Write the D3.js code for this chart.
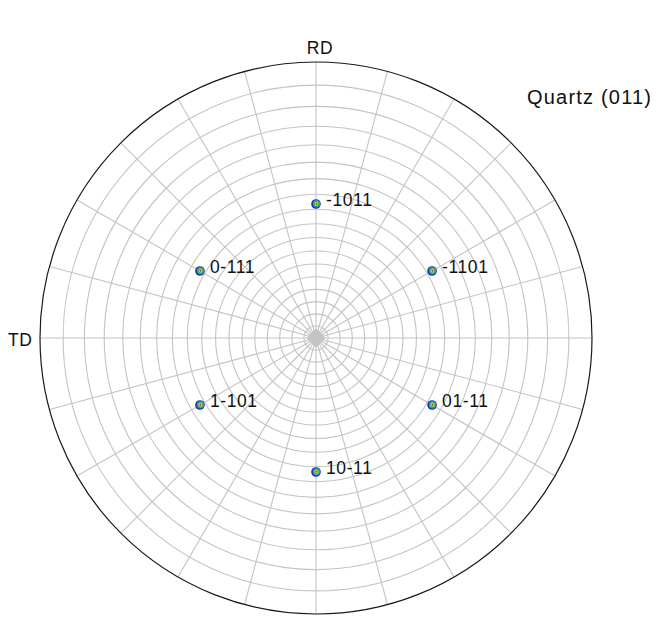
<!DOCTYPE html>
<html>
<head>
<meta charset="utf-8">
<script src="https://cdn.jsdelivr.net/npm/d3@7"></script>
<style>
  body { margin: 0; background: #fff; }
  text { font-family: Arial, "Liberation Sans", sans-serif; fill: #111; }
</style>
</head>
<body>
<svg id="pole-figure" width="657" height="618"></svg>
<script>
// pole figure data
var poleLabels = ['-1011', '-1101', '01-11', '10-11', '1-101', '0-111'];
var poleAzimuth = [0, 60, 120, 180, 240, 300];       // degrees, clockwise from RD
var polePsi = [51.8, 51.8, 51.8, 51.8, 51.8, 51.8];  // tilt from centre, degrees

// grid
var ringPsi = d3.range(5, 90, 5);       // 5..85
var spokeAzimuth = d3.range(0, 360, 15);

var title = 'Quartz (011)';
var axisNames = ['RD', 'TD'];

// layout
var svg = d3.select('#pole-figure');
var cx = 316, cy = 338, R = 276;

// stereographic projection: r = R * tan(psi/2)
var rScale = d3.scaleLinear().domain([0, 1]).range([0, R]);
function radius(psi) {
  return rScale(Math.tan(psi * Math.PI / 360));
}
function px(az, r) { return cx + r * Math.sin(az * Math.PI / 180); }
function py(az, r) { return cy - r * Math.cos(az * Math.PI / 180); }

var g = svg.append('g');
var gridColor = '#c4c4c4';

// rings
g.selectAll('circle.ring')
  .data(ringPsi)
  .enter()
  .append('circle')
  .attr('class', 'ring')
  .attr('cx', cx)
  .attr('cy', cy)
  .attr('r', function(d){ return radius(d); })
  .attr('fill', 'none')
  .attr('stroke', gridColor)
  .attr('stroke-width', 1.1);

// spokes
g.selectAll('line.spoke')
  .data(spokeAzimuth)
  .enter()
  .append('line')
  .attr('class', 'spoke')
  .attr('x1', cx)
  .attr('y1', cy)
  .attr('x2', function(d){ return px(d, R); })
  .attr('y2', function(d){ return py(d, R); })
  .attr('stroke', gridColor)
  .attr('stroke-width', 1.1);

// centre where the spokes merge
var c = radius(4);
g.append('path')
  .attr('d', 'M' + cx + ',' + (cy - c) + 'L' + (cx + c) + ',' + cy +
             'L' + cx + ',' + (cy + c) + 'L' + (cx - c) + ',' + cy + 'Z')
  .attr('fill', gridColor);

// outer rim
g.append('circle')
  .attr('cx', cx)
  .attr('cy', cy)
  .attr('r', radius(90))
  .attr('fill', 'none')
  .attr('stroke', '#1a1a1a')
  .attr('stroke-width', 1.2);

// poles
var blobColors = ['#1f2fb0', '#1e90e8', '#3cc040', '#f2e020', '#e02a20'];
var blobRadii = [4.8, 3.7, 2.7, 1.8, 1];

var poles = g.selectAll('g.pole')
  .data(poleLabels)
  .enter()
  .append('g')
  .attr('class', 'pole')
  .attr('transform', function(d, i){
    var r = radius(polePsi[i]);
    return 'translate(' + px(poleAzimuth[i], r) + ',' + py(poleAzimuth[i], r) + ')';
  });

blobRadii.forEach(function(br, k){
  poles.append('circle')
    .attr('cx', k === 0 ? 0 : 0.5)
    .attr('cy', k === 0 ? 0 : -0.3)
    .attr('r', br)
    .attr('fill', blobColors[k]);
});

poles.append('text')
  .attr('x', 10)
  .attr('y', 2)
  .attr('font-size', 17.5)
  .attr('letter-spacing', 0.6)
  .text(function(d){ return d; });

// axis names
svg.append('text')
  .attr('x', cx + 4)
  .attr('y', 54)
  .attr('text-anchor', 'middle')
  .attr('font-size', 17.5)
  .attr('letter-spacing', 0.5)
  .text(axisNames[0]);

svg.append('text')
  .attr('x', 8)
  .attr('y', 346)
  .attr('font-size', 17.5)
  .attr('letter-spacing', 0.5)
  .text(axisNames[1]);

svg.append('text')
  .attr('x', 527)
  .attr('y', 104)
  .attr('font-size', 20)
  .attr('letter-spacing', 1.2)
  .text(title);
</script>
</body>
</html>
